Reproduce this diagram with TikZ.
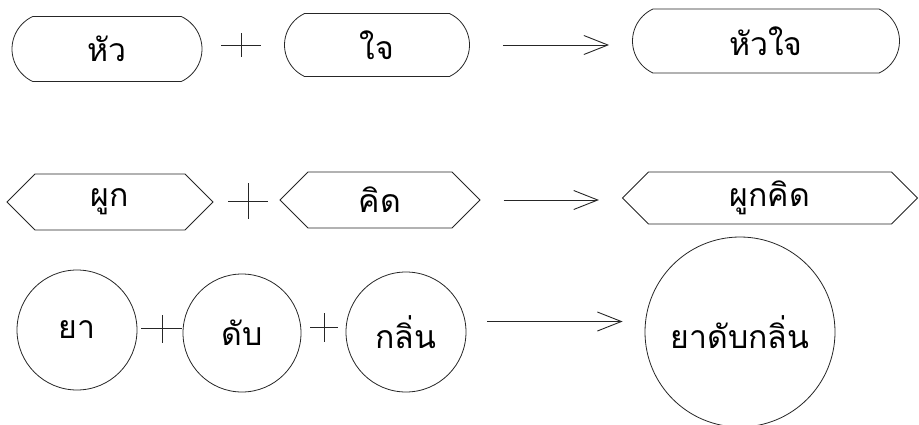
\documentclass[tikz,border=0pt]{standalone}
\usepackage{fontspec}
\newfontfamily\thaifont[Script=Thai]{Loma}
\usetikzlibrary{shapes.misc,shapes.symbols,arrows.meta}
\tikzset{
ARC/.style ={draw=black!85,line join=miter,line cap=butt,line width=0.8pt},
PILL/.style={ARC,rounded rectangle,rounded rectangle arc length=130,inner sep=0pt},
HEX/.style ={ARC,signal,signal to=west and east,signal pointer angle=90,inner sep=0pt},
BALL/.style={ARC,circle,inner sep=0pt},
WORD/.style={font=\thaifont\fontsize{32}{34}\selectfont},
ARR/.style ={ARC,arrows={-Straight Barb[length=24pt,width=19pt,line width=0.9pt]}},
}

\begin{document}
\begin{tikzpicture}[x=1pt,y=-1pt] %word compounds
	\useasboundingbox (0,0) rectangle (919,424);
	% row 1
	\node[PILL,WORD,minimum width=190,minimum height=65] (hua) at (107,49) {หัว};
	\node[PILL,WORD,minimum width=185,minimum height=63] (jai) at (377,45) {ใจ};
	\node[PILL,WORD,minimum width=267,minimum height=64] (huajai) at (766,41) {หัวใจ};
	\coordinate (plusA) at (241,45);
	\path[ARC] (plusA) +(-20,0) -- +(20,0) +(0,-12) -- +(0,12);
	\draw[ARR,shorten <=33pt,shorten >=23pt] (jai.east) -- (jai.east -| huajai.west);
	% row 2
	\node[HEX,WORD,minimum width=206,minimum height=56] (phuk) at (110,202) {ผูก};
	\node[HEX,WORD,minimum width=200,minimum height=56] (khit) at (380,200) {คิด};
	\node[HEX,WORD,minimum width=295,minimum height=52] (phukkhit) at (770,198) {ผูกคิด};
	\coordinate (plusB) at (248,201);
	\path[ARC] (plusB) +(-20,0) -- +(20,0) +(0,-18) -- +(0,18);
	\draw[ARR,shorten <=23pt,shorten >=23pt] (khit.east) -- (khit.east -| phukkhit.west);
	% row 3
	\node[BALL,WORD,minimum size=120] (ya) at (77,330) {ยา};
	\node[BALL,WORD,minimum size=118] (dap) at (242,333) {ดับ};
	\node[BALL,WORD,minimum size=120] (klin) at (406,332) {กลิ่น};
	\node[BALL,WORD,minimum size=190] (yadapklin) at (740,332) {ยาดับกลิ่น};
	\coordinate (plusC) at (162,328);
	\path[ARC] (plusC) +(-21,0) -- +(20,0) +(0,-13) -- +(0,15);
	\coordinate (plusD) at (324,327);
	\path[ARC] (plusD) +(-14,0) -- +(14,0) +(0,-14) -- +(0,15);
	\draw[ARR,shorten <=22pt,shorten >=22pt] (klin.10) -- (klin.10 -| yadapklin.west);
\end{tikzpicture}
\end{document}
